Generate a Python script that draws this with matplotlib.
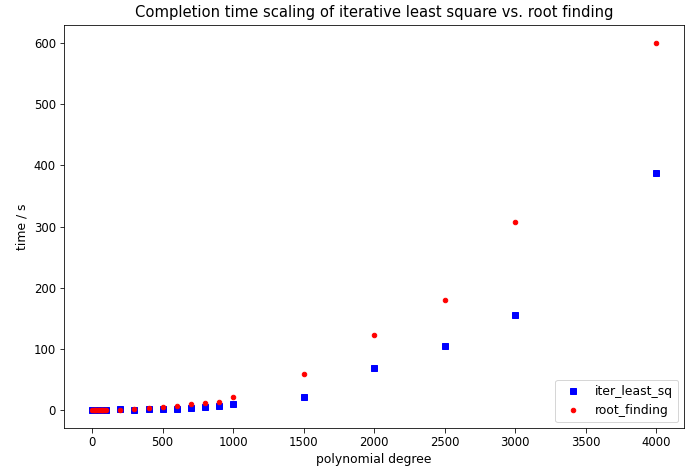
import matplotlib
matplotlib.use("Agg")
import matplotlib.pyplot as plt

degrees = [0, 10, 20, 30, 40, 50, 60, 70, 80, 90, 100,
           200, 300, 400, 500, 600, 700, 800, 900, 1000,
           1500, 2000, 2500, 3000, 4000]
iter_least_sq = [0.0, 0.0, 0.0, 0.0, 0.1, 0.1, 0.1, 0.2, 0.2, 0.3, 0.3,
                 2.0, 0.5, 2.0, 2.0, 2.0, 3.5, 5.0, 6.0, 9.0,
                 21.0, 69.0, 104.0, 155.0, 387.0]
root_finding = [0.0, 0.0, 0.0, 0.0, 0.0, 0.0, 0.0, 0.1, 0.1, 0.1, 0.1,
                0.0, 2.0, 3.3, 4.5, 6.6, 9.0, 11.0, 13.0, 21.0,
                59.0, 122.0, 179.0, 307.0, 600.0]

W, H = 686, 469
fig = plt.figure(figsize=(W / 72, H / 72), dpi=72)
ax = fig.add_axes([64 / W, (H - 428.3) / H, (684.3 - 64) / W, (428.3 - 24.7) / H])

ax.plot(degrees, iter_least_sq, 'bs', markersize=5.5, label='iter_least_sq')
ax.plot(degrees, root_finding, 'ro', markersize=4.5, label='root_finding')

ax.set_title('Completion time scaling of iterative least square vs. root finding',
             fontsize=14.8, pad=7.5)
ax.set_xlabel('polynomial degree', fontsize=12.4, labelpad=4)
ax.set_ylabel('time / s', fontsize=12.4, labelpad=5)
ax.tick_params(labelsize=11.6, length=4.5)
ax.legend(loc='lower right', fontsize=12.4)

fig.savefig('out.png', dpi=72)
